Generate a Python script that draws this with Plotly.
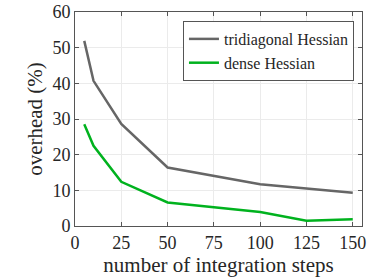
import plotly.graph_objects as go

steps = [5, 10, 25, 50, 100, 125, 150]
tridiagonal = [51.9, 40.7, 28.6, 16.4, 11.7, 10.5, 9.3]
dense = [28.5, 22.5, 12.4, 6.6, 3.9, 1.5, 1.9]
x_ticks = [0, 25, 50, 75, 100, 125, 150]
y_ticks = [0, 10, 20, 30, 40, 50, 60]

FONT = "Liberation Serif"
TXT = "#262626"

fig = go.Figure()
fig.add_trace(go.Scatter(x=steps, y=tridiagonal, mode="lines", name="tridiagonal Hessian",
                         line=dict(color="#666666", width=2.5)))
fig.add_trace(go.Scatter(x=steps, y=dense, mode="lines", name="dense Hessian",
                         line=dict(color="#00b21e", width=2.5)))

axis_common = dict(showline=True, linecolor="#555555", linewidth=1, mirror="ticks",
                   ticks="inside", ticklen=4, tickcolor="#555555",
                   showgrid=True, gridcolor="#ebebeb", gridwidth=1, zeroline=False,
                   tickfont=dict(family=FONT, size=18, color=TXT))

fig.update_layout(
    width=374, height=280,
    margin=dict(l=75, r=12, t=12, b=54, autoexpand=False),
    plot_bgcolor="white", paper_bgcolor="white",
    xaxis=dict(range=[0, 155], tickvals=x_ticks,
               title=dict(text="number of integration steps", font=dict(family=FONT, size=21, color=TXT), standoff=4),
               **axis_common),
    yaxis=dict(range=[0, 60], tickvals=y_ticks,
               title=dict(text="overhead (%)", font=dict(family=FONT, size=21, color=TXT), standoff=4),
               **axis_common),
    legend=dict(x=0.972, y=0.958, xanchor="right", yanchor="top",
                bgcolor="white", bordercolor="#555555", borderwidth=1,
                font=dict(family=FONT, size=16, color=TXT),
                itemwidth=30, tracegroupgap=0),
    showlegend=True,
)

fig.write_html("out.html", config={"displayModeBar": False},
               post_script="document.body.style.margin='0';")
